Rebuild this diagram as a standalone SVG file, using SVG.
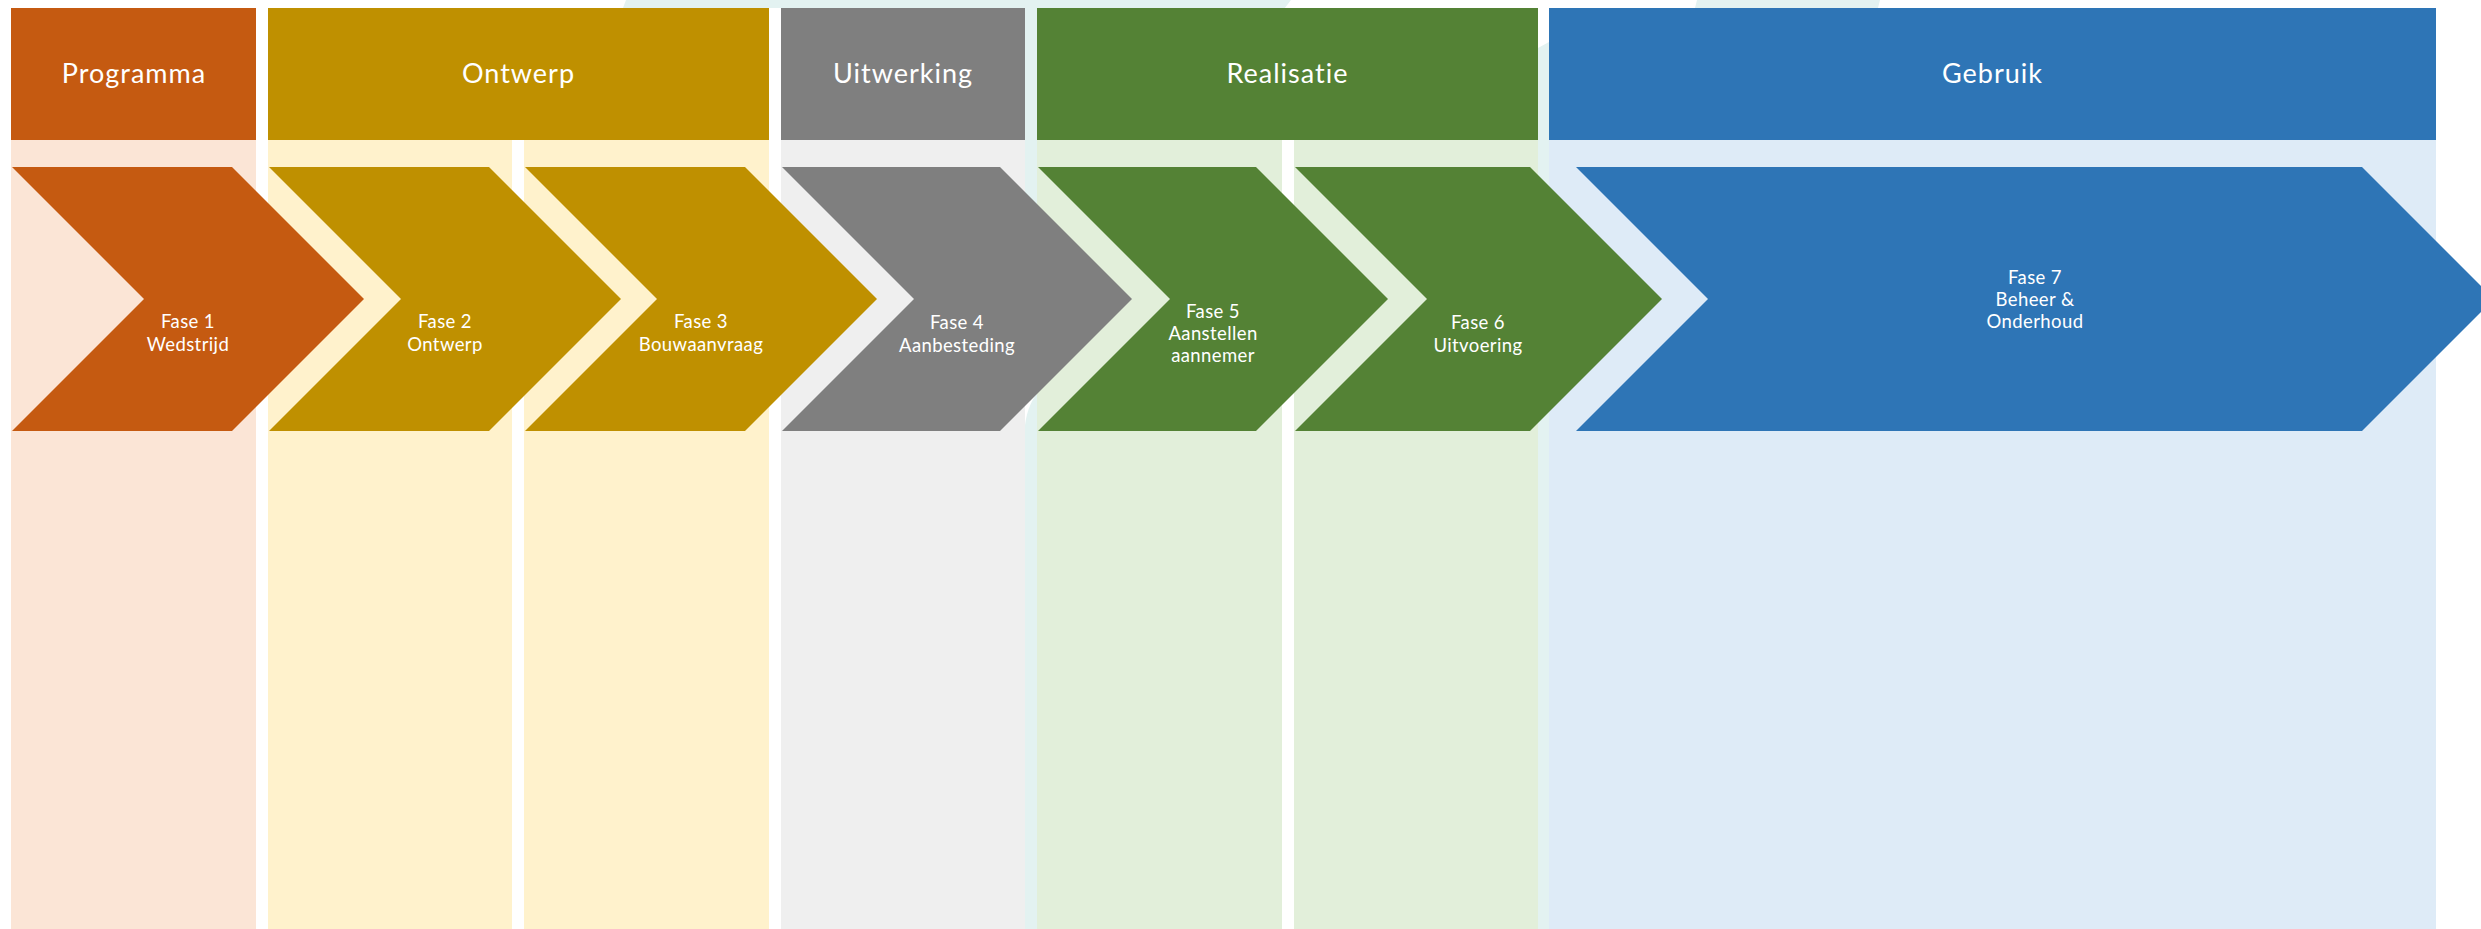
<svg xmlns="http://www.w3.org/2000/svg" width="2481" height="929" viewBox="0 0 2481 929">
<style>
.hdr{font-family:Lato,"Open Sans","Liberation Sans",sans-serif;font-size:27px;fill:#ffffff;text-anchor:middle;letter-spacing:1px}
.lbl{font-family:Lato,"Open Sans","Liberation Sans",sans-serif;font-size:18.5px;fill:#ffffff;text-anchor:middle;letter-spacing:0.4px}
.wm{fill:#e3f2f1}
.o{fill:#c55a11}.ol{fill:#fbe5d6}
.y{fill:#bf9000}.yl{fill:#fff2cc}
.g{fill:#7f7f7f}.gl{fill:#efefef}
.n{fill:#548235}.nl{fill:#e2efda}
.b{fill:#2e75b6}.bl{fill:#deebf7}
</style>
<rect x="0" y="0" width="2481" height="929" fill="#ffffff"/>
<g id="watermark">
<polygon class="wm" points="626,0 1291,0 1045,318 1025,318 1025,140 781,140 781,8 623,8"/>
<path class="wm" d="M1040,390 C1032,398 1027,410 1025,425 L1025,929 L1040,929 Z"/>
<polygon class="wm" points="1697,0 1880,0 1878,8 1695,8"/>
<polygon class="wm" points="1538,48 1549,42 1549,929 1538,929"/>
</g>
<g id="columns">
<rect class="ol" x="11" y="140" width="245" height="789"/>
<rect class="yl" x="268" y="140" width="244" height="789"/>
<rect class="yl" x="524" y="140" width="245" height="789"/>
<rect class="gl" x="781" y="140" width="244" height="789"/>
<rect class="nl" x="1037" y="140" width="245" height="789"/>
<rect class="nl" x="1294" y="140" width="244" height="789"/>
<rect class="bl" x="1549" y="140" width="887" height="789"/>
</g>
<g id="header-programma"><rect class="o" x="11" y="8" width="245" height="132"/><text class="hdr" x="134" y="83">Programma</text></g>
<g id="header-ontwerp"><rect class="y" x="268" y="8" width="501" height="132"/><text class="hdr" x="518.5" y="83">Ontwerp</text></g>
<g id="header-uitwerking"><rect class="g" x="781" y="8" width="244" height="132"/><text class="hdr" x="903" y="83">Uitwerking</text></g>
<g id="header-realisatie"><rect class="n" x="1037" y="8" width="501" height="132"/><text class="hdr" x="1287.5" y="83">Realisatie</text></g>
<g id="header-gebruik"><rect class="b" x="1549" y="8" width="887" height="132"/><text class="hdr" x="1992.5" y="83">Gebruik</text></g>
<g id="fase1"><polygon class="o" points="12,167 232,167 364,299 232,431 12,431 144,299"/><text class="lbl" x="188" y="328">Fase 1</text><text class="lbl" x="188" y="351">Wedstrijd</text></g>
<g id="fase2"><polygon class="y" points="269,167 489,167 621,299 489,431 269,431 401,299"/><text class="lbl" x="445" y="328">Fase 2</text><text class="lbl" x="445" y="351">Ontwerp</text></g>
<g id="fase3"><polygon class="y" points="525,167 745,167 877,299 745,431 525,431 657,299"/><text class="lbl" x="701" y="328">Fase 3</text><text class="lbl" x="701" y="351">Bouwaanvraag</text></g>
<g id="fase4"><polygon class="g" points="782,167 1000,167 1132,299 1000,431 782,431 914,299"/><text class="lbl" x="957" y="329">Fase 4</text><text class="lbl" x="957" y="352">Aanbesteding</text></g>
<g id="fase5"><polygon class="n" points="1038,167 1256,167 1388,299 1256,431 1038,431 1170,299"/><text class="lbl" x="1213" y="318">Fase 5</text><text class="lbl" x="1213" y="340">Aanstellen</text><text class="lbl" x="1213" y="362">aannemer</text></g>
<g id="fase6"><polygon class="n" points="1295,167 1530,167 1662,299 1530,431 1295,431 1427,299"/><text class="lbl" x="1478" y="329">Fase 6</text><text class="lbl" x="1478" y="352">Uitvoering</text></g>
<g id="fase7"><polygon class="b" points="1576,167 2362,167 2494,299 2362,431 1576,431 1708,299"/><text class="lbl" x="2035" y="284">Fase 7</text><text class="lbl" x="2035" y="306">Beheer &amp;</text><text class="lbl" x="2035" y="328">Onderhoud</text></g>
<g id="connectors"></g>
</svg>
